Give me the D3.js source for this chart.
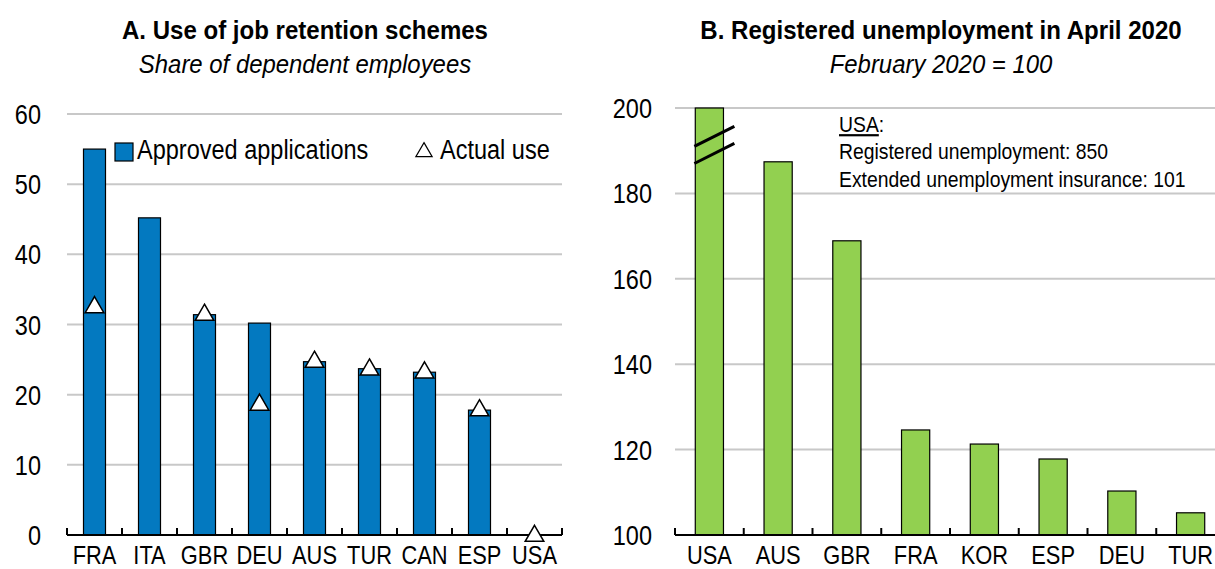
<!DOCTYPE html>
<html lang="en">
<head>
<meta charset="utf-8">
<title>Job retention and unemployment</title>
<script src="https://d3js.org/d3.v7.min.js"></script>
<style>
  body { margin: 0; background: #fff; }
  svg text { font-family: "Liberation Sans", Arial, sans-serif; fill: #000; }
  .title { font-weight: bold; font-size: 26px; }
  .subtitle { font-style: italic; font-size: 26px; }
  .ylab { font-size: 28px; }
  .xlab { font-size: 26px; }
  .legend { font-size: 28px; }
  .note { font-size: 22px; }
</style>
</head>
<body>
<div id="main"></div>
<script>
// panel A data
var catsA = ["FRA", "ITA", "GBR", "DEU", "AUS", "TUR", "CAN", "ESP", "USA"];
var approved = [55.0, 45.2, 31.4, 30.2, 24.7, 23.7, 23.2, 17.8, null];
var actualUse = [32.6, null, 31.5, 18.7, 24.8, 23.7, 23.3, 17.9, 0];
var ticksA = [0, 10, 20, 30, 40, 50, 60];

// panel B data
var catsB = ["USA", "AUS", "GBR", "FRA", "KOR", "ESP", "DEU", "TUR"];
var registered = [850, 187.4, 168.9, 124.6, 121.3, 117.8, 110.3, 105.2];
var ticksB = [100, 120, 140, 160, 180, 200];
var usaNote = ["Registered unemployment: 850", "Extended unemployment insurance: 101"];
var breakAt = [191, 187];   // where the two break strokes cross the USA bar

var width = 1215, height = 569;
var blue = "#0379c0", green = "#92d050", grid = "#c8c8c8";

var svg = d3.select("#main").append("svg")
    .attr("width", width)
    .attr("height", height);

// narrow-ish text: no Arial Narrow here, so squeeze Liberation Sans horizontally
function label(g, x, y, txt, cls, anchor, sx) {
  return g.append("text")
    .attr("class", cls)
    .attr("transform", "translate(" + x + "," + y + ") scale(" + sx + ",1)")
    .attr("text-anchor", anchor || "start")
    .text(txt);
}

// ---------- Panel A ----------
var xA = d3.scaleBand().domain(catsA).range([67, 562]);
var yA = d3.scaleLinear().domain([0, 60]).range([535, 114]);

var gA = svg.append("g");

label(gA, 305, 39, "A. Use of job retention schemes", "title", "middle", 0.925);
label(gA, 305, 73, "Share of dependent employees", "subtitle", "middle", 0.92);

gA.selectAll(".grid").data(ticksA.filter(d => d > 0)).enter()
    .append("line")
    .attr("x1", xA.range()[0]).attr("x2", xA.range()[1])
    .attr("y1", d => yA(d)).attr("y2", d => yA(d))
    .attr("stroke", grid).attr("stroke-width", 2);

ticksA.forEach(function(d) {
  label(gA, 41, yA(d) + 10, d, "ylab", "end", 0.84);
});

var barsA = catsA.map((c, i) => ({ c: c, v: approved[i] })).filter(d => d.v != null);
var bwA = xA.bandwidth() * 0.4;
gA.selectAll(".bar").data(barsA).enter()
    .append("rect")
    .attr("x", d => xA(d.c) + (xA.bandwidth() - bwA) / 2)
    .attr("y", d => yA(d.v))
    .attr("width", bwA)
    .attr("height", d => yA(0) - yA(d.v))
    .attr("fill", blue).attr("stroke", "#000").attr("stroke-width", 1.2);

// x axis
var axisA = gA.append("g").attr("transform", "translate(0," + yA(0) + ")");
axisA.append("line").attr("x1", xA.range()[0]).attr("x2", xA.range()[1])
    .attr("stroke", "#000").attr("stroke-width", 2);
axisA.selectAll(".tk").data(catsA.map(c => xA(c)).concat([xA.range()[1]])).enter()
    .append("line").attr("x1", d => d).attr("x2", d => d)
    .attr("y1", 0).attr("y2", -7).attr("stroke", "#000").attr("stroke-width", 2);
catsA.forEach(function(c) {
  label(axisA, xA(c) + xA.bandwidth() / 2, 29, c, "xlab", "middle", 0.84);
});

// triangles
var tri = d3.symbol().type(d3.symbolTriangle).size(150);
var marksA = catsA.map((c, i) => ({ c: c, v: actualUse[i] })).filter(d => d.v != null);
gA.selectAll(".tri").data(marksA).enter()
    .append("path")
    .attr("d", tri)
    .attr("transform", d => "translate(" + (xA(d.c) + xA.bandwidth() / 2) + "," + (yA(d.v) + 1) + ")")
    .attr("fill", "#fff").attr("stroke", "#000").attr("stroke-width", 1.5);

// legend
var leg = gA.append("g");
leg.append("rect").attr("x", 115).attr("y", 143).attr("width", 18).attr("height", 18)
    .attr("fill", blue).attr("stroke", "#000").attr("stroke-width", 1.2);
label(leg, 137, 159, "Approved applications", "legend", "start", 0.84);
leg.append("path").attr("d", d3.symbol().type(d3.symbolTriangle).size(115))
    .attr("transform", "translate(424,152)")
    .attr("fill", "none").attr("stroke", "#000").attr("stroke-width", 1.2);
label(leg, 440, 159, "Actual use", "legend", "start", 0.84);

// ---------- Panel B ----------
var xB = d3.scaleBand().domain(catsB).range([675, 1225]);
var yB = d3.scaleLinear().domain([100, 200]).range([535, 108]).clamp(true);

var gB = svg.append("g");

label(gB, 941, 39, "B. Registered unemployment in April 2020", "title", "middle", 0.925);
label(gB, 941, 73, "February 2020 = 100", "subtitle", "middle", 0.92);

gB.selectAll(".grid").data(ticksB.filter(d => d > 100)).enter()
    .append("line")
    .attr("x1", xB.range()[0]).attr("x2", xB.range()[1])
    .attr("y1", d => yB(d)).attr("y2", d => yB(d))
    .attr("stroke", grid).attr("stroke-width", 2);

ticksB.forEach(function(d) {
  label(gB, 652, yB(d) + 10, d, "ylab", "end", 0.84);
});

var barsB = catsB.map((c, i) => ({ c: c, v: registered[i] }));
var bwB = xB.bandwidth() * 0.41;
gB.selectAll(".bar").data(barsB).enter()
    .append("rect")
    .attr("x", d => xB(d.c) + (xB.bandwidth() - bwB) / 2)
    .attr("y", d => yB(d.v))
    .attr("width", bwB)
    .attr("height", d => yB(100) - yB(d.v))
    .attr("fill", green).attr("stroke", "#000").attr("stroke-width", 1.2);

var axisB = gB.append("g").attr("transform", "translate(0," + yB(100) + ")");
axisB.append("line").attr("x1", xB.range()[0]).attr("x2", xB.range()[1])
    .attr("stroke", "#000").attr("stroke-width", 2);
axisB.selectAll(".tk").data(catsB.map(c => xB(c)).concat([xB.range()[1]])).enter()
    .append("line").attr("x1", d => d).attr("x2", d => d)
    .attr("y1", 0).attr("y2", -7).attr("stroke", "#000").attr("stroke-width", 2);
catsB.forEach(function(c) {
  label(axisB, xB(c) + xB.bandwidth() / 2, 29, c, "xlab", "middle", 0.84);
});

// break marks on the USA bar
var cx = xB("USA") + xB.bandwidth() / 2;
breakAt.forEach(function(v) {
  gB.append("line")
    .attr("x1", cx - 15).attr("y1", yB(v))
    .attr("x2", cx + 25).attr("y2", yB(v + 4.7))
    .attr("stroke", "#000").attr("stroke-width", 3);
});

// USA note
var note = gB.append("g");
var head = label(note, 839, 132, "", "note", "start", 0.88);
head.append("tspan").attr("text-decoration", "underline").text("USA");
head.append("tspan").text(":");
usaNote.forEach(function(t, i) {
  label(note, 839, 159 + i * 28, t, "note", "start", 0.88);
});
</script>
</body>
</html>
